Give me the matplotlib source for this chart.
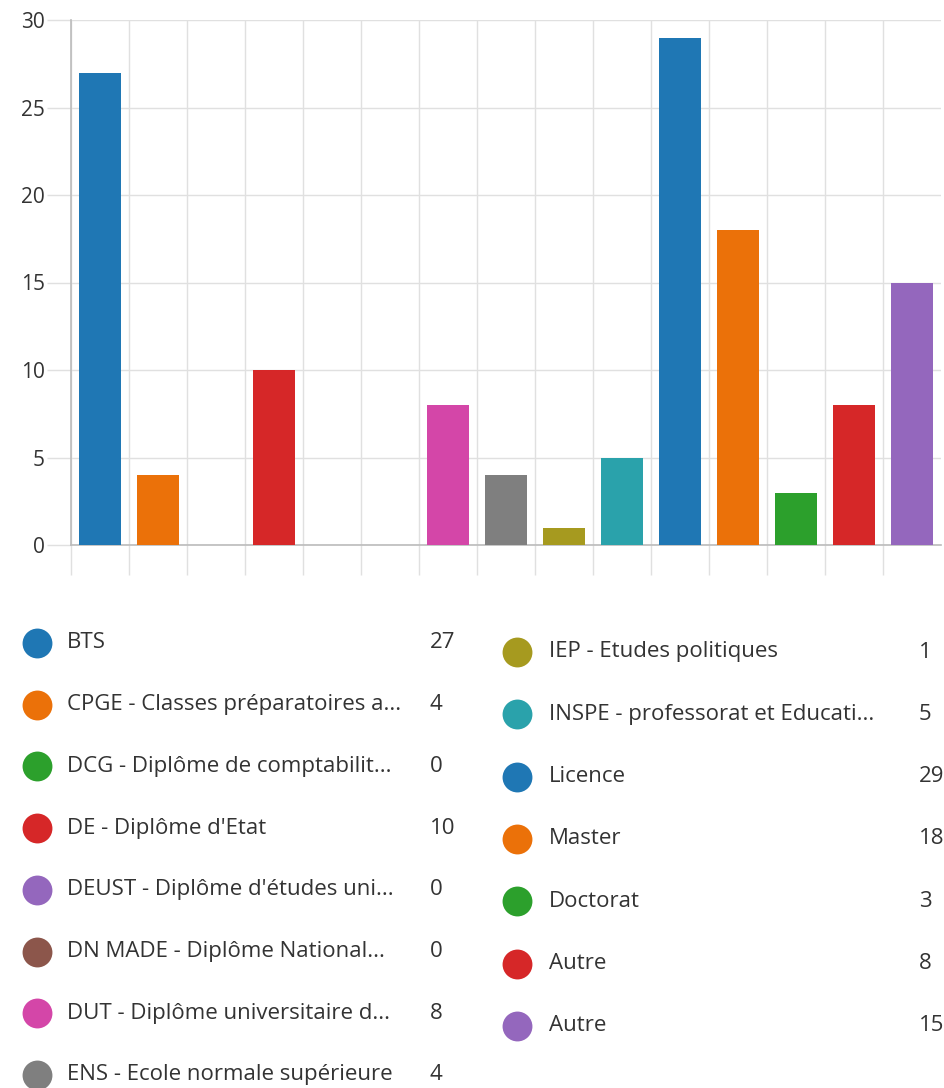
import matplotlib
matplotlib.use("Agg")
import matplotlib.pyplot as plt
from matplotlib.lines import Line2D

plt.rcParams['font.family'] = ['Open Sans', 'DejaVu Sans']

categories = ["BTS", "CPGE", "DCG", "DE", "DEUST", "DN MADE", "DUT", "ENS",
              "IEP", "INSPE", "Licence", "Master", "Doctorat", "Autre", "Autre"]
values = [27, 4, 0, 10, 0, 0, 8, 4, 1, 5, 29, 18, 3, 8, 15]
legend_labels = [
    "BTS",
    "CPGE - Classes préparatoires a...",
    "DCG - Diplôme de comptabilit...",
    "DE - Diplôme d'Etat",
    "DEUST - Diplôme d'études uni...",
    "DN MADE - Diplôme National...",
    "DUT - Diplôme universitaire d...",
    "ENS - Ecole normale supérieure",
    "IEP - Etudes politiques",
    "INSPE - professorat et Educati...",
    "Licence",
    "Master",
    "Doctorat",
    "Autre",
    "Autre",
]
colors = ["#1f77b4", "#eb7109", "#2ca02c", "#d62728", "#9467bd", "#8c564b",
          "#d446a8", "#7f7f7f", "#a69a1f", "#2aa2ab", "#1f77b4", "#eb7109",
          "#2ca02c", "#d62728", "#9467bd"]
yticks = [0, 5, 10, 15, 20, 25, 30]

W, H = 945, 1088
fig = plt.figure(figsize=(W / 100, H / 100), dpi=100)
ax = fig.add_axes([71 / W, (H - 545) / H, (941 - 71) / W, (545 - 20) / H])

x = list(range(len(values)))
ax.bar(x, values, width=0.72, color=colors, zorder=3)

ax.set_xlim(-0.5, len(values) - 0.5)
ax.set_ylim(0, 30)
grid_c = "#e0e0e0"
ax.set_yticks(yticks)
ax.set_yticklabels([str(v) for v in yticks])
ax.set_xticks([i - 0.5 for i in range(len(values))])
ax.set_xticklabels([])
ax.tick_params(axis='y', length=17.3, color=grid_c, width=1, pad=1.5,
               labelsize=15, labelcolor="#333333")
ax.tick_params(axis='x', length=21.6, color=grid_c, width=1)
ax.grid(True, color=grid_c, linewidth=1, zorder=0)
for s in ["top", "right"]:
    ax.spines[s].set_visible(False)
ax.spines["left"].set_color("#bbbbbb")
ax.spines["bottom"].set_color("#bbbbbb")
ax.spines["left"].set_linewidth(1.2)
ax.spines["bottom"].set_linewidth(1.2)

# custom legend
left_y0, left_dy = 643, 61.7
right_y0, right_dy = 652, 62.3
n_left = 8
txt_c = "#333333"
for i, (lab, v, c) in enumerate(zip(legend_labels, values, colors)):
    if i < n_left:
        cy = left_y0 + i * left_dy
        cx, tx, vx = 37, 67, 430
    else:
        cy = right_y0 + (i - n_left) * right_dy
        cx, tx, vx = 517, 549, 919
    fy = 1 - cy / H
    fig.add_artist(Line2D([cx / W], [fy], marker='o', markersize=21.5,
                          color=c, markeredgewidth=0, transform=fig.transFigure))
    fig.text(tx / W, fy, lab, ha='left', va='center', fontsize=16, color=txt_c)
    fig.text(vx / W, fy, str(v), ha='left', va='center', fontsize=16, color=txt_c)

fig.savefig("out.png", dpi=100)
